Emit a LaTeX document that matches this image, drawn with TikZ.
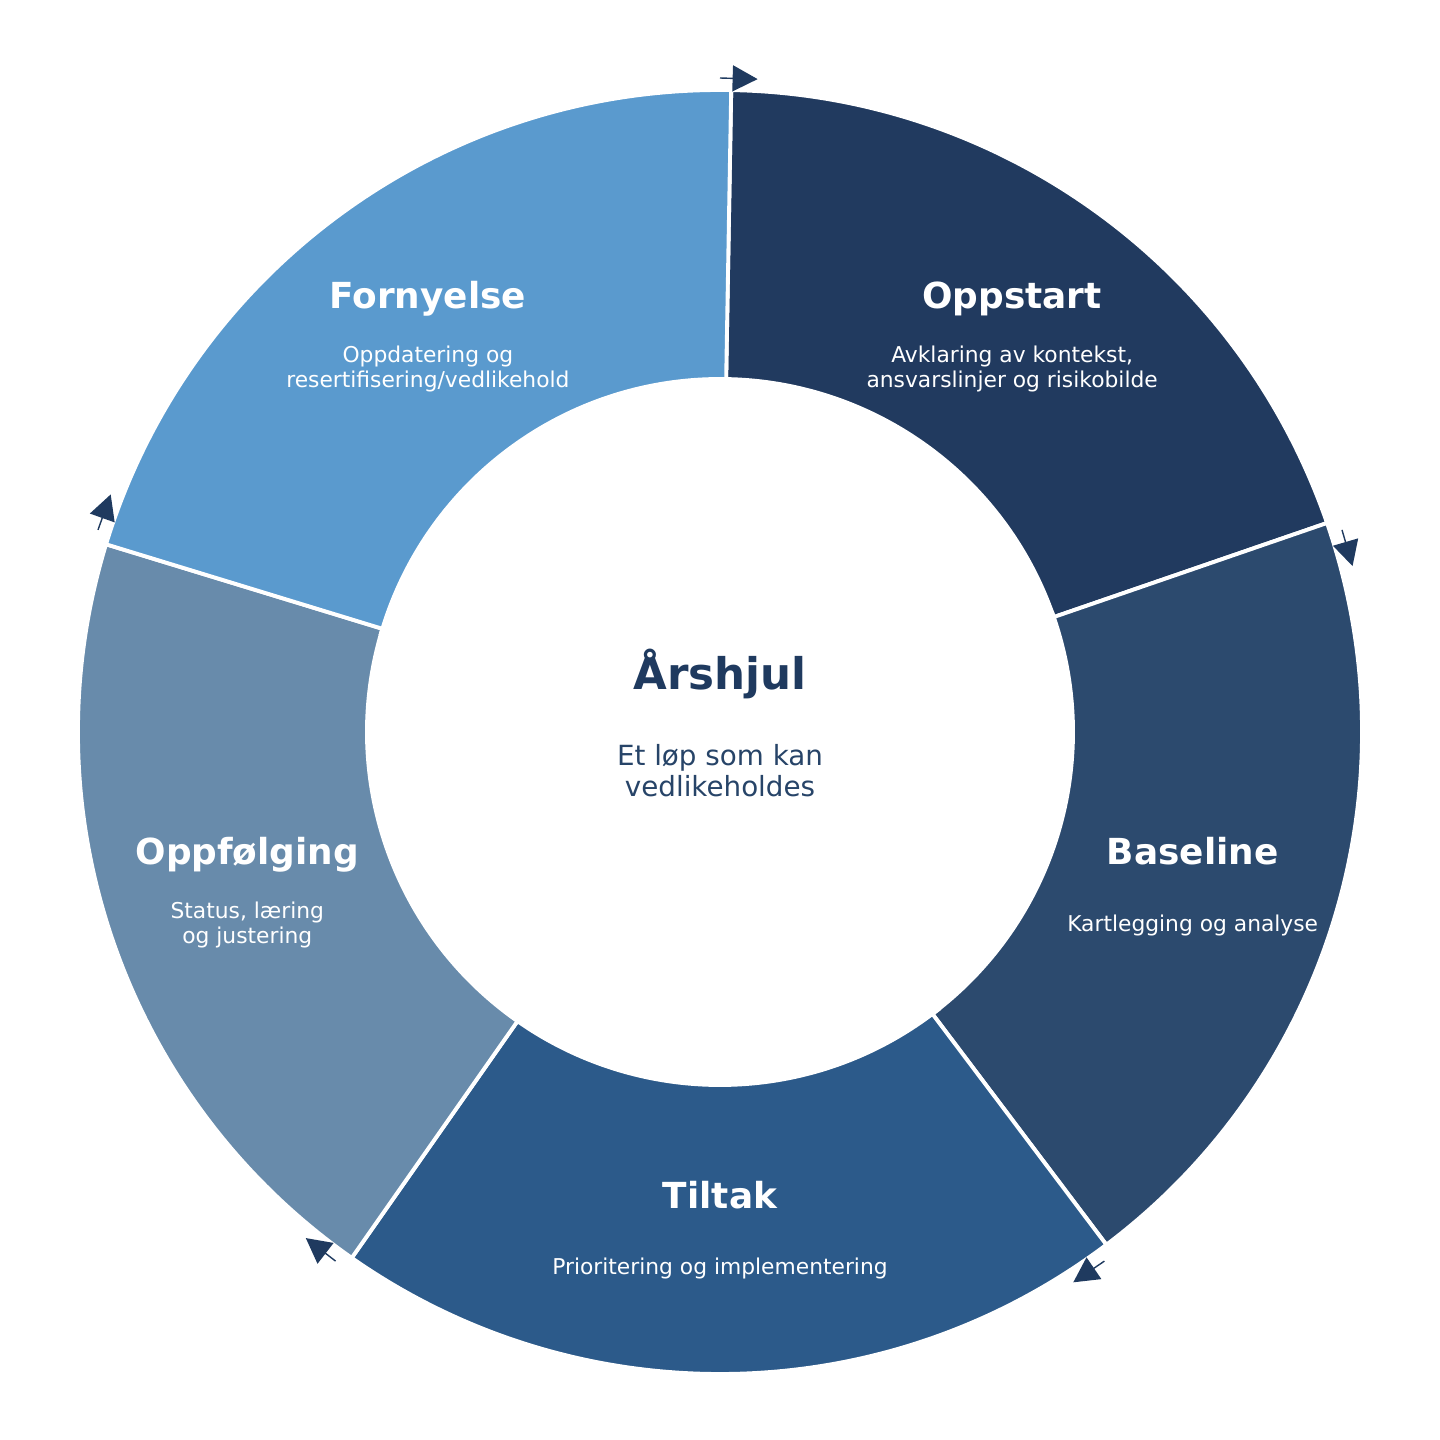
\documentclass[tikz,border=0pt]{standalone}
\usepackage{fontspec}
\setmainfont{DejaVu Sans}
\usetikzlibrary{arrows.meta}
\definecolor{segOppstart}{HTML}{213A5F}
\definecolor{segBaseline}{HTML}{2C4A6E}
\definecolor{segTiltak}{HTML}{2C5A8A}
\definecolor{segOppfolging}{HTML}{688BAB}
\definecolor{segFornyelse}{HTML}{5A9ACE}
\definecolor{hubnavy}{HTML}{1F3A5F}
\definecolor{hubsubnavy}{HTML}{274468}
\begin{document}
\begin{tikzpicture}[
		cyclearrow/.style={-{Triangle[length=2.5mm,width=2.6mm]}, hubnavy, line width=0.4pt},
		titletext/.style={text=white, font=\fontsize{10.2}{12}\selectfont\bfseries, anchor=base},
		subtext/.style={text=white, font=\fontsize{6.2}{7.1}\selectfont, align=center},
	]
		\useasboundingbox (-7.2,-7.08) rectangle (7.2,7.32);
		
		% ring segments
		\foreach \a/\b/\c in {89/19/segOppstart, 19/-53/segBaseline, -53/-125/segTiltak, -125/-197/segOppfolging, -197/-271/segFornyelse}
			\fill[fill=\c, draw=white, line width=1.1pt] (\a:3.53) -- (\a:6.42) arc[start angle=\a, end angle=\b, radius=6.42] -- (\b:3.53) arc[start angle=\b, end angle=\a, radius=3.53] -- cycle;
		
		% arrows on the outside
		\foreach \a [count=\i] in {90,18,-54,-126,-198} {
			\coordinate (s\i) at (\a:6.54);
			\coordinate (e\i) at (\a-3.3:6.54);
			\draw[cyclearrow] (s\i) -- (e\i);
		}
		
		% segment labels
		\foreach \m/\t/\s [count=\i] in {54/Oppstart/{Avklaring av kontekst,\\ansvarslinjer og risikobilde}, -18/Baseline/{Kartlegging og analyse}, -90/Tiltak/{Prioritering og implementering}, -162/Oppfølging/{Status, læring\\og justering}, 126/Fornyelse/{Oppdatering og\\resertifisering/vedlikehold}} {
			\coordinate (c\i) at (\m:4.97);
			\node[titletext] (t\i) at ([yshift=2.1mm]c\i) {\t};
			\node[subtext] (d\i) at ([yshift=-3.95mm]c\i) {\s};
		}
		
		% hub
		\node[text=hubnavy, font=\fontsize{12.4}{14}\selectfont\bfseries, anchor=base] (hub) at (0,0.42) {Årshjul};
		\node[text=hubsubnavy, font=\fontsize{7.9}{8.8}\selectfont, align=center] (hubsub) at (0,-0.39) {Et løp som kan\\vedlikeholdes};
	\end{tikzpicture}
\end{document}
